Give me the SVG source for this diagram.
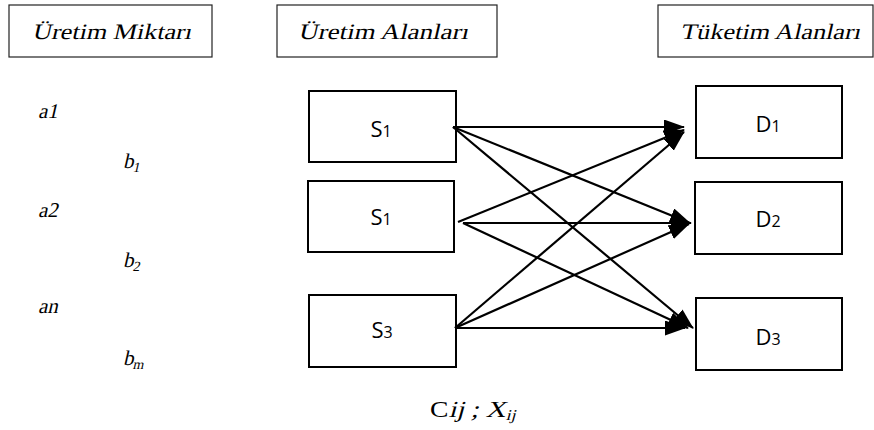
<svg xmlns="http://www.w3.org/2000/svg" width="874" height="430" viewBox="0 0 874 430">
<style>
.hdr{fill:#fff;stroke:#222;stroke-width:1.2}
.node{fill:#fff;stroke:#000;stroke-width:2}
.nt{fill:#000;text-anchor:middle;font-family:"Open Sans","Liberation Sans",sans-serif;font-size:22px}
.ser{font-family:"Liberation Serif","Times New Roman",serif;fill:#000}
.conn line{stroke:#000;stroke-width:2.2;marker-end:url(#ah)}
</style>
<defs>
<marker id="ah" markerUnits="userSpaceOnUse" markerWidth="22" markerHeight="16" refX="20" refY="7.5" orient="auto" viewBox="0 0 22 16">
<path d="M0,0 L21,7.5 L0,15 z" fill="#000"/>
</marker>
</defs>
<rect width="874" height="430" fill="#fff"/>
<g id="hdr-uretim-miktari">
<rect class="hdr" x="9" y="5" width="203" height="52"/>
<text class="ser" transform="translate(32,39) skewX(-13)" font-size="22" textLength="159" lengthAdjust="spacingAndGlyphs">Üretim Miktarı</text>
</g>
<g id="hdr-uretim-alanlari">
<rect class="hdr" x="277" y="5" width="220" height="52"/>
<text class="ser" transform="translate(298,39) skewX(-13)" font-size="22" textLength="170" lengthAdjust="spacingAndGlyphs">Üretim Alanları</text>
</g>
<g id="hdr-tuketim-alanlari">
<rect class="hdr" x="658" y="5" width="215" height="52"/>
<text class="ser" transform="translate(680,39) skewX(-13)" font-size="22" textLength="180" lengthAdjust="spacingAndGlyphs">Tüketim Alanları</text>
</g>
<g id="labels" class="ser" font-size="21">
<text transform="translate(38,118) skewX(-13)">a1</text>
<text transform="translate(123,168) skewX(-13)">b<tspan font-size="14" dy="4">1</tspan></text>
<text transform="translate(38,217) skewX(-13)">a2</text>
<text transform="translate(123,267) skewX(-13)">b<tspan font-size="14" dy="4">2</tspan></text>
<text transform="translate(38,313) skewX(-13)">an</text>
<text transform="translate(123,365) skewX(-13)">b<tspan font-size="14" dy="4">m</tspan></text>
</g>
<g id="cost" class="ser" transform="translate(430,417) scale(1.2,1)">
<text x="0" y="0" font-size="23">C</text>
<text transform="translate(15.5,0) skewX(-13)" font-size="23">ij ; X</text>
<text transform="translate(63,3) skewX(-13)" font-size="15">ij</text>
</g>
<g id="S1a">
<rect class="node" x="309" y="91" width="147" height="71"/>
<text class="nt" x="381" y="137">S<tspan font-size="16">1</tspan></text>
</g>
<g id="S1b">
<rect class="node" x="308" y="181" width="146" height="71"/>
<text class="nt" x="381" y="225">S<tspan font-size="16">1</tspan></text>
</g>
<g id="S3">
<rect class="node" x="309" y="295" width="147" height="72"/>
<text class="nt" x="382" y="338">S<tspan font-size="16">3</tspan></text>
</g>
<g id="D1">
<rect class="node" x="696" y="86" width="146" height="72"/>
<text class="nt" x="768" y="132">D<tspan font-size="16">1</tspan></text>
</g>
<g id="D2">
<rect class="node" x="695" y="182" width="147" height="72"/>
<text class="nt" x="768" y="227">D<tspan font-size="16">2</tspan></text>
</g>
<g id="D3">
<rect class="node" x="696" y="298" width="146" height="72"/>
<text class="nt" x="768" y="345">D<tspan font-size="16">3</tspan></text>
</g>
<g class="conn" id="connectors">
<line x1="453" y1="127" x2="684" y2="127"/>
<line x1="453" y1="127" x2="690" y2="223"/>
<line x1="453" y1="127" x2="693" y2="328"/>
<line x1="458" y1="222" x2="684" y2="130"/>
<line x1="463" y1="223" x2="691" y2="223"/>
<line x1="463" y1="223" x2="688" y2="328"/>
<line x1="455" y1="328" x2="684" y2="132"/>
<line x1="455" y1="328" x2="689" y2="224"/>
<line x1="455" y1="328" x2="685" y2="328"/>
</g>
</svg>
